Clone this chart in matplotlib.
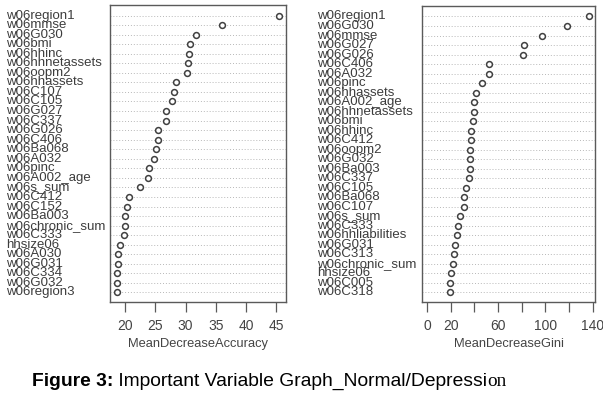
import matplotlib
matplotlib.use("Agg")
import matplotlib.pyplot as plt
from matplotlib.transforms import blended_transform_factory

# ---- data (top row first) ----
acc_labels = ["w06region1", "w06mmse", "w06G030", "w06bmi", "w06hhinc", "w06hhnetassets",
              "w06oopm2", "w06hhassets", "w06C107", "w06C105", "w06G027", "w06C337",
              "w06G026", "w06C406", "w06Ba068", "w06A032", "w06pinc", "w06A002_age",
              "w06s_sum", "w06C412", "w06C152", "w06Ba003", "w06chronic_sum", "w06C333",
              "hhsize06", "w06A030", "w06G031", "w06C334", "w06G032", "w06region3"]
acc_values = [45.5, 36.1, 31.7, 30.7, 30.6, 30.4, 30.3, 28.4, 28.0, 27.7, 26.8, 26.8,
              25.5, 25.5, 25.1, 24.7, 23.9, 23.8, 22.4, 20.6, 20.3, 20.0, 20.0, 19.8,
              19.2, 18.9, 18.9, 18.7, 18.7, 18.6]

gini_labels = ["w06region1", "w06G030", "w06mmse", "w06G027", "w06G026", "w06C406",
               "w06A032", "w06pinc", "w06hhassets", "w06A002_age", "w06hhnetassets", "w06bmi",
               "w06hhinc", "w06C412", "w06oopm2", "w06G032", "w06Ba003", "w06C337",
               "w06C105", "w06Ba068", "w06C107", "w06s_sum", "w06C333", "w06hhliabilities",
               "w06G031", "w06C313", "w06chronic_sum", "hhsize06", "w06C005", "w06C318"]
gini_values = [136.7, 118.1, 97.6, 82.4, 81.5, 52.8, 52.6, 46.9, 41.6, 39.9, 39.9, 39.3,
               37.6, 37.1, 36.5, 36.5, 36.5, 35.1, 33.2, 30.9, 30.9, 27.5, 26.1, 25.6,
               23.3, 22.5, 21.9, 20.3, 19.1, 19.1]

acc_ticks = [20, 25, 30, 35, 40, 45]
gini_ticks = [0, 20, 40, 60, 80, 100, 120, 140]
gini_ticklabels = ["0", "20", "", "60", "", "100", "", "140"]

W, H = 603, 400
fig = plt.figure(figsize=(W / 100, H / 100), dpi=100)
fig.patch.set_facecolor("white")

LABEL_COLOR = "#3c3c3c"
EDGE = "#5a5a5a"


def panel(rect_px, labels, values, xlim, ticks, ticklabels, xlabel, label_x_px):
    l, t, r, b = rect_px
    ax = fig.add_axes([l / W, 1 - b / H, (r - l) / W, (b - t) / H])
    n = len(values)
    ys = list(range(n, 0, -1))
    for y in ys:
        ax.axhline(y, color="#b8b8b8", lw=0.7, ls=(0, (1, 2)), zorder=1)
    ax.plot(values, ys, ls="none", marker="o", ms=4.2, mfc="white",
            mec="#404040", mew=1.1, zorder=3)
    ax.set_xlim(*xlim)
    ax.set_ylim(0, n + 1.1)
    ax.set_yticks([])
    ax.set_xticks(ticks)
    ax.set_xticklabels(ticklabels, fontsize=10, color="#444444",
                       family="Liberation Sans")
    ax.tick_params(axis="x", direction="out", length=7, width=0.9,
                   color=EDGE, pad=5)
    for s in ax.spines.values():
        s.set_color(EDGE)
        s.set_linewidth(1.0)
    ax.set_xlabel(xlabel, fontsize=9.3, color="#444444", family="Liberation Sans",
                  labelpad=4)
    tr = blended_transform_factory(fig.transFigure, ax.transData)
    for lab, y in zip(labels, ys):
        ax.text(label_x_px / W, y, lab, transform=tr, ha="left", va="center",
                fontsize=9.5, color=LABEL_COLOR, family="Liberation Sans",
                clip_on=False)
    return ax


panel((110, 5, 286, 302), acc_labels, acc_values, (17.5, 46.6), acc_ticks,
      [str(t) for t in acc_ticks], "MeanDecreaseAccuracy", 6)
panel((422, 6, 595, 302), gini_labels, gini_values, (-4.2, 142.0), gini_ticks,
      gini_ticklabels, "MeanDecreaseGini", 317)

# ---- caption ----
CAP_Y = 1 - 386 / H
t1 = fig.text(32 / W, CAP_Y, "Figure 3:", fontsize=13.9, fontweight="bold",
              family="Liberation Sans", color="black", ha="left", va="baseline")
t2 = fig.text(0, 0, " Important Variable Graph_Normal/Depressi", fontsize=13.9,
              family="Liberation Sans", color="black", ha="left", va="baseline")
t3 = fig.text(0, 0, "on", fontsize=13.9, family="Liberation Serif",
              color="black", ha="left", va="baseline")

fig.canvas.draw()
r = fig.canvas.get_renderer()
bb1 = t1.get_window_extent(r)
t2.set_position((bb1.x1 / W, CAP_Y))
fig.canvas.draw()
bb2 = t2.get_window_extent(r)
t3.set_position((bb2.x1 / W, CAP_Y))

fig.savefig("out.png", dpi=100)
